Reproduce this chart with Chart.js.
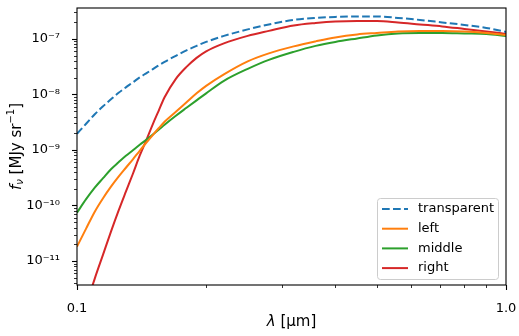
<!DOCTYPE html>
<html>
<head>
<meta charset="utf-8">
<script src="https://cdn.jsdelivr.net/npm/chart.js@4.4.1/dist/chart.umd.min.js"></script>
<style>body{margin:0;background:#fff}</style>
</head>
<body>
<canvas id="sed" width="519" height="336"></canvas>
<script>
// wavelength grid (micron)
var lambda = [0.1, 0.105, 0.11, 0.115, 0.12, 0.125, 0.13, 0.135, 0.14, 0.145, 0.15, 0.155, 0.16,
              0.17, 0.18, 0.19, 0.2, 0.22, 0.25, 0.28, 0.32, 0.36, 0.4, 0.45, 0.5, 0.56, 0.63,
              0.71, 0.8, 0.9, 1.0];
// f_nu in MJy/sr
var transparent = [1.956e-9, 2.96e-9, 4.39e-9, 6.11e-9, 8.17e-9, 1.069e-8, 1.342e-8, 1.651e-8, 2.03e-8, 2.40e-8,
                   2.83e-8, 3.34e-8, 3.86e-8, 4.95e-8, 6.21e-8, 7.48e-8, 8.83e-8, 1.132e-7, 1.482e-7, 1.823e-7,
                   2.196e-7, 2.386e-7, 2.488e-7, 2.54e-7, 2.54e-7, 2.386e-7, 2.196e-7, 1.981e-7, 1.785e-7,
                   1.577e-7, 1.336e-7];
var left = [1.815e-11, 3.83e-11, 7.74e-11, 1.353e-10, 2.18e-10, 3.30e-10, 4.78e-10, 6.80e-10, 9.67e-10, 1.348e-9,
            1.838e-9, 2.457e-9, 3.22e-9, 4.86e-9, 7.21e-9, 1.047e-8, 1.428e-8, 2.30e-8, 3.94e-8, 5.49e-8,
            7.33e-8, 9.02e-8, 1.064e-7, 1.205e-7, 1.282e-7, 1.364e-7, 1.393e-7, 1.393e-7, 1.364e-7, 1.282e-7,
            1.18e-7];
var middle = [7.42e-11, 1.298e-10, 2.09e-10, 3.10e-10, 4.50e-10, 6.01e-10, 7.87e-10, 9.88e-10, 1.24e-9, 1.525e-9,
              1.877e-9, 2.308e-9, 2.84e-9, 4.12e-9, 5.74e-9, 7.83e-9, 1.047e-8, 1.757e-8, 2.887e-8, 4.19e-8,
              5.84e-8, 7.48e-8, 8.83e-8, 1.021e-7, 1.156e-7, 1.256e-7, 1.282e-7, 1.282e-7, 1.256e-7, 1.23e-7,
              1.132e-7];
var right = [5.16e-13, 1.577e-12, 4.83e-12, 1.304e-11, 3.38e-11, 8.06e-11, 1.771e-10, 3.73e-10, 7.87e-10, 1.494e-9,
             2.84e-9, 5.07e-9, 8.87e-9, 1.909e-8, 3.135e-8, 4.55e-8, 5.96e-8, 8.30e-8, 1.132e-7, 1.393e-7,
             1.749e-7, 1.94e-7, 2.064e-7, 2.107e-7, 2.107e-7, 1.981e-7, 1.823e-7, 1.679e-7, 1.513e-7, 1.364e-7,
             1.23e-7];

var xTicks = [0.1, 0.2, 0.3, 0.4, 0.5, 0.6, 0.7, 0.8, 0.9, 1.0];
var xTickLabels = ['0.1', '', '', '', '', '', '', '', '', '1.0'];
var yMajor = [1e-11, 1e-10, 1e-9, 1e-8, 1e-7];
var yTickLabels = ['10\u207B\u00B9\u00B9', '10\u207B\u00B9\u2070', '10\u207B\u2079', '10\u207B\u2078', '10\u207B\u2077'];
var yMin = 3.7e-12, yMax = 3.6e-7;

function pts(arr) {
    return lambda.map(function (l, i) { return {x: l, y: arr[i]}; });
}

// all log ticks (majors + minors) inside the y range
var yTicks = [];
for (var e = -12; e <= -7; e++) {
    for (var k = 1; k <= 9; k++) {
        var v = k * Math.pow(10, e);
        if (v >= yMin && v <= yMax) yTicks.push(v);
    }
}

function yLabel(v) {
    for (var i = 0; i < yMajor.length; i++) {
        if (Math.abs(v / yMajor[i] - 1) < 1e-6) return yTickLabels[i];
    }
    return '';
}
function xLabel(v) {
    for (var i = 0; i < xTicks.length; i++) {
        if (Math.abs(v - xTicks[i]) < 1e-6) return xTickLabels[i];
    }
    return '';
}

var FONT = "'DejaVu Sans'";

function noPad(s) {
    s.paddingTop = 0; s.paddingBottom = 0; s.paddingLeft = 0; s.paddingRight = 0;
}

var decor = {
    id: 'decor',
    afterDraw: function (chart) {
        var c = chart.ctx, a = chart.chartArea;
        var xs = chart.scales.x, ys = chart.scales.y;
        c.save();
        c.strokeStyle = '#000';
        // tick marks
        xTicks.forEach(function (v, i) {
            var p = Math.round(xs.getPixelForValue(v)) + 0.5;
            var major = xTickLabels[i] !== '';
            c.lineWidth = major ? 1.1 : 0.8;
            c.beginPath(); c.moveTo(p, a.bottom); c.lineTo(p, a.bottom + (major ? 5 : 3)); c.stroke();
        });
        yTicks.forEach(function (v) {
            var p = Math.round(ys.getPixelForValue(v)) + 0.5;
            var major = yLabel(v) !== '';
            c.lineWidth = major ? 1.1 : 0.8;
            c.beginPath(); c.moveTo(a.left, p); c.lineTo(a.left - (major ? 5 : 3), p); c.stroke();
        });
        // frame
        c.lineWidth = 1.1;
        c.strokeRect(a.left, a.top, a.right - a.left, a.bottom - a.top);

        // x title: lambda [um]
        c.fillStyle = '#000';
        c.textBaseline = 'middle';
        var t1 = '\u03BB', t2 = ' [\u03BCm]';
        c.font = 'italic 15px ' + FONT;
        var w1 = c.measureText(t1).width;
        c.font = '15px ' + FONT;
        var w2 = c.measureText(t2).width;
        var cx = (a.left + a.right) / 2 - (w1 + w2) / 2;
        c.font = 'italic 15px ' + FONT; c.fillText(t1, cx, 322);
        c.font = '15px ' + FONT; c.fillText(t2, cx + w1, 322);

        // y title: f_nu [MJy sr^-1]
        c.save();
        c.translate(17, (a.top + a.bottom) / 2);
        c.rotate(-Math.PI / 2);
        var parts = [
            {t: 'f', f: 'italic 15px ' + FONT, dy: 0},
            {t: '\u03BD', f: 'italic 10px ' + FONT, dy: 3},
            {t: ' [MJy sr', f: '15px ' + FONT, dy: 0},
            {t: '\u22121', f: '10px ' + FONT, dy: -6},
            {t: ']', f: '15px ' + FONT, dy: 0}
        ];
        var tw = 0;
        parts.forEach(function (p) { c.font = p.f; p.w = c.measureText(p.t).width; tw += p.w; });
        var px = -tw / 2;
        parts.forEach(function (p) { c.font = p.f; c.fillText(p.t, px, p.dy); px += p.w; });
        c.restore();

        // legend
        var bw = 121, bh = 81;
        var bx = a.right - 8 - bw, by = a.bottom - 6 - bh;
        c.beginPath();
        c.roundRect(bx + 0.5, by + 0.5, bw, bh, 3);
        c.fillStyle = 'rgba(255,255,255,0.8)';
        c.fill();
        c.strokeStyle = '#cccccc';
        c.lineWidth = 1;
        c.stroke();
        c.font = '13px ' + FONT;
        chart.data.datasets.forEach(function (ds, i) {
            var ry = by + 11 + i * 19.7;
            c.strokeStyle = ds.borderColor;
            c.lineWidth = 2;
            c.setLineDash(ds.borderDash || []);
            c.beginPath(); c.moveTo(bx + 5, ry); c.lineTo(bx + 31, ry); c.stroke();
            c.setLineDash([]);
            c.fillStyle = '#000';
            c.fillText(ds.label, bx + 41, ry);
        });
        c.restore();
    }
};

new Chart(document.getElementById('sed'), {
    type: 'line',
    data: {
        datasets: [
            {label: 'transparent', data: pts(transparent), borderColor: '#1f77b4', borderDash: [7.7, 3.3]},
            {label: 'left', data: pts(left), borderColor: '#ff7f0e'},
            {label: 'middle', data: pts(middle), borderColor: '#2ca02c'},
            {label: 'right', data: pts(right), borderColor: '#d62728'}
        ]
    },
    options: {
        responsive: false,
        animation: false,
        elements: {
            point: {radius: 0},
            line: {borderWidth: 2, fill: false, cubicInterpolationMode: 'monotone'}
        },
        layout: {padding: {left: 0, top: 8, right: 13, bottom: 0}},
        plugins: {legend: {display: false}, tooltip: {enabled: false}},
        scales: {
            x: {
                type: 'logarithmic', min: 0.1, max: 1.0,
                afterBuildTicks: function (s) { s.ticks = xTicks.map(function (v) { return {value: v}; }); },
                afterFit: function (s) { s.height = 51; noPad(s); },
                grid: {display: false},
                border: {display: false},
                ticks: {
                    autoSkip: false, maxRotation: 0, padding: 8, color: '#000',
                    font: {family: 'DejaVu Sans', size: 13},
                    callback: function (v) { return xLabel(v); }
                }
            },
            y: {
                type: 'logarithmic', min: yMin, max: yMax,
                afterBuildTicks: function (s) { s.ticks = yTicks.map(function (v) { return {value: v}; }); },
                afterFit: function (s) { s.width = 77; noPad(s); },
                grid: {display: false},
                border: {display: false},
                ticks: {
                    autoSkip: false, padding: 9, color: '#000',
                    font: {family: 'DejaVu Sans', size: 13},
                    callback: function (v) { return yLabel(v); }
                }
            }
        }
    },
    plugins: [decor]
});
</script>
</body>
</html>
